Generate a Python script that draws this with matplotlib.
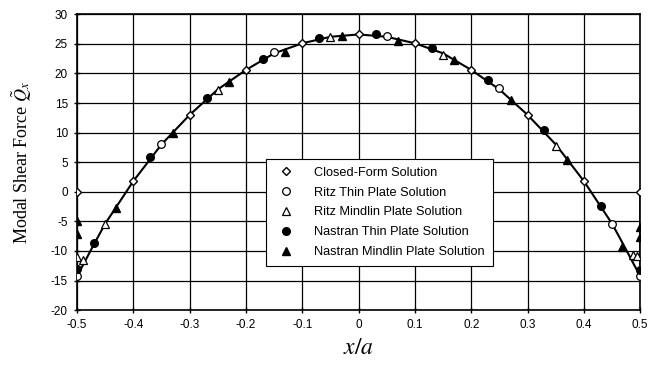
import matplotlib.pyplot as plt

plt.rcParams['font.family'] = ['Liberation Sans', 'DejaVu Sans']
plt.rcParams['mathtext.fontset'] = 'stix'
plt.rcParams['axes.unicode_minus'] = False

# closed-form solution (diamonds) and the solid curve
closed_x = [-0.5, -0.4, -0.3, -0.2, -0.1, 0.0, 0.1, 0.2, 0.3, 0.4, 0.5]
closed_y = [0.0, 1.8, 13.0, 20.6, 25.1, 26.6, 25.1, 20.6, 13.0, 1.8, 0.0]

curve_x = [-0.5, -0.5, -0.47, -0.45, -0.4, -0.35, -0.3, -0.25, -0.2, -0.15, -0.1, -0.05,
           0.0, 0.05, 0.1, 0.15, 0.2, 0.25, 0.3, 0.35, 0.4, 0.45, 0.47, 0.5, 0.5]
curve_y = [0.0, -14.3, -8.9, -5.4, 1.8, 8.0, 13.0, 17.3, 20.6, 23.4, 25.1, 26.2,
           26.6, 26.2, 25.1, 23.4, 20.6, 17.3, 13.0, 8.0, 1.8, -5.4, -8.9, -14.3, 0.0]

# Ritz thin plate (open circles)
ritz_thin_x = [-0.5, -0.35, -0.15, 0.05, 0.25, 0.45, 0.5]
ritz_thin_y = [-14.3, 8.1, 23.6, 26.4, 17.5, -5.5, -14.3]

# Ritz Mindlin plate (open triangles)
ritz_mind_x = [-0.5, -0.49, -0.45, -0.25, -0.05, 0.15, 0.35, 0.487, 0.495]
ritz_mind_y = [-11.0, -11.5, -5.4, 17.2, 26.1, 23.2, 7.8, -10.7, -10.8]

# Nastran thin plate (filled circles)
nas_thin_x = [-0.5, -0.47, -0.37, -0.27, -0.17, -0.07, 0.03, 0.13, 0.23, 0.33, 0.43, 0.5]
nas_thin_y = [-13.1, -8.7, 5.85, 15.8, 22.4, 26.0, 26.7, 24.3, 18.9, 10.5, -2.4, -13.2]

# Nastran Mindlin plate (filled triangles)
nas_mind_x = [-0.5, -0.5, -0.43, -0.33, -0.23, -0.13, -0.03, 0.07, 0.17, 0.27, 0.37, 0.467, 0.5, 0.5]
nas_mind_y = [-5.0, -7.2, -2.8, 10.0, 18.6, 23.7, 26.4, 25.5, 22.3, 15.5, 5.4, -9.3, -6.0, -7.6]

xticks = [-0.5, -0.4, -0.3, -0.2, -0.1, 0, 0.1, 0.2, 0.3, 0.4, 0.5]
xtick_labels = ['-0.5', '-0.4', '-0.3', '-0.2', '-0.1', '0', '0.1', '0.2', '0.3', '0.4', '0.5']
yticks = [-20, -15, -10, -5, 0, 5, 10, 15, 20, 25, 30]

fig = plt.figure(figsize=(6.58, 3.67), dpi=100)
ax = fig.add_axes([0.117, 0.155, 0.856, 0.806])

ax.plot(curve_x, curve_y, color='black', lw=1.5, zorder=3)
ax.plot(closed_x, closed_y, ls='none', marker='D', ms=4.5, mfc='white', mec='black',
        mew=1.0, label='Closed-Form Solution', zorder=4)
ax.plot(ritz_thin_x, ritz_thin_y, ls='none', marker='o', ms=5.5, mfc='white', mec='black',
        mew=0.9, label='Ritz Thin Plate Solution', zorder=4)
ax.plot(ritz_mind_x, ritz_mind_y, ls='none', marker='^', ms=5.5, mfc='white', mec='black',
        mew=0.9, label='Ritz Mindlin Plate Solution', zorder=4)
ax.plot(nas_thin_x, nas_thin_y, ls='none', marker='o', ms=5.5, mfc='black', mec='black',
        label='Nastran Thin Plate Solution', zorder=4)
ax.plot(nas_mind_x, nas_mind_y, ls='none', marker='^', ms=5.5, mfc='black', mec='black',
        label='Nastran Mindlin Plate Solution', zorder=4)

ax.set_xlim(-0.5, 0.5)
ax.set_ylim(-20, 30)
ax.set_xticks(xticks)
ax.set_xticklabels(xtick_labels)
ax.set_yticks(yticks)
ax.grid(True, color='black', lw=0.9)
ax.tick_params(direction='inout', length=5, width=1, labelsize=8.5, pad=4, colors='black')
for sp in ax.spines.values():
    sp.set_linewidth(1.2)

ax.set_xlabel('$x/a$', fontsize=17, labelpad=4)
ax.set_ylabel(r'Modal Shear Force $\tilde{Q}_x$', fontsize=13, family='Liberation Serif',
              labelpad=12)

leg = ax.legend(loc='upper left', bbox_to_anchor=(0.335, 0.511), fontsize=9.2,
                frameon=True, fancybox=False, edgecolor='black', framealpha=1,
                borderpad=0.6, labelspacing=0.62, handletextpad=1.2, borderaxespad=0,
                handlelength=2.0)
leg.get_frame().set_linewidth(0.8)

fig.savefig('out.png', dpi=100)
